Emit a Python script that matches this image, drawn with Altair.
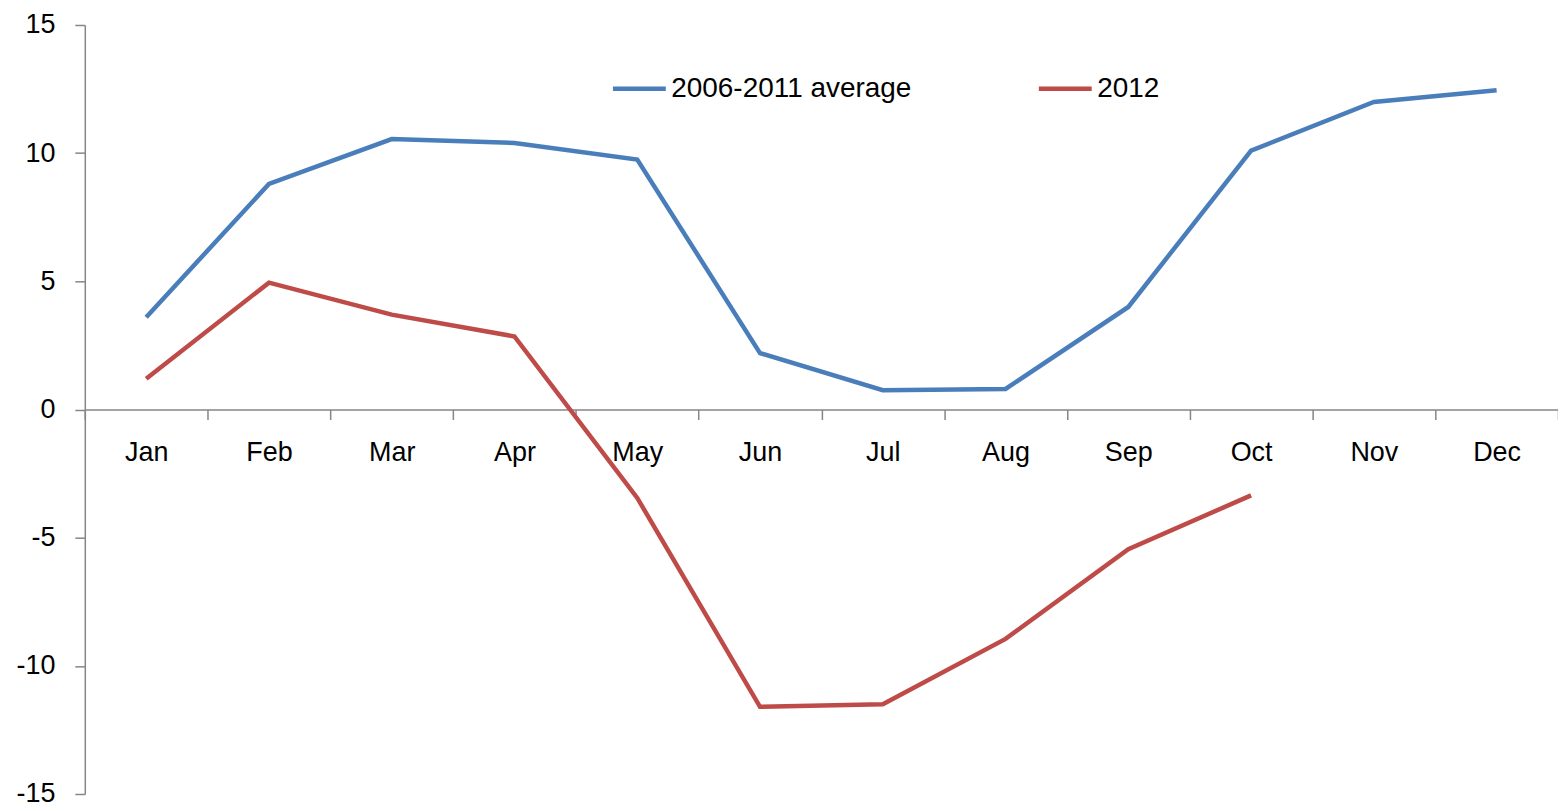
import altair as alt
import pandas as pd

months = ["Jan", "Feb", "Mar", "Apr", "May", "Jun", "Jul", "Aug", "Sep", "Oct", "Nov", "Dec"]
avg_2006_2011 = [3.6, 8.8, 10.55, 10.4, 9.75, 2.2, 0.75, 0.8, 4.0, 10.1, 12.0, 12.45]
y2012 = [1.2, 4.95, 3.7, 2.85, -3.45, -11.6, -11.5, -8.95, -5.45, -3.35]
series_names = ["2006-2011 average", "2012"]
colors = ["#4A7EBB", "#BE4B48"]
y_ticks = [-15, -10, -5, 0, 5, 10, 15]

rows = []
for m, v in zip(months, avg_2006_2011):
    rows.append({"month": m, "value": v, "series": series_names[0]})
for m, v in zip(months, y2012):
    rows.append({"month": m, "value": v, "series": series_names[1]})
df = pd.DataFrame(rows)

W, H = 1477, 771
FONT = "Liberation Sans"
AXIS_GRAY = "#868686"

chart = alt.Chart(df).mark_line(strokeWidth=4.5).encode(
    x=alt.X(
        "month:N",
        sort=months,
        bandPosition=0.5,
        scale=alt.Scale(type="band", domain=months, paddingInner=0, paddingOuter=0),
        axis=alt.Axis(
            title=None,
            orient="bottom",
            offset=-H / 2,
            tickBand="extent",
            tickSize=10,
            tickColor=AXIS_GRAY,
            tickWidth=1.5,
            domainColor=AXIS_GRAY,
            domainWidth=1.5,
            labelFont=FONT,
            labelFontSize=27,
            labelColor="black",
            labelPadding=20,
            labelAngle=0,
            grid=False,
        ),
    ),
    y=alt.Y(
        "value:Q",
        scale=alt.Scale(domain=[-15, 15], nice=False, zero=False),
        axis=alt.Axis(
            title=None,
            values=y_ticks,
            tickSize=10,
            tickColor=AXIS_GRAY,
            tickWidth=1.5,
            domainColor=AXIS_GRAY,
            domainWidth=1.5,
            labelFont=FONT,
            labelFontSize=27,
            labelColor="black",
            labelPadding=20,
            grid=False,
            labelExpr="datum.value < 0 ? '-' + abs(datum.value) : '' + datum.value",
        ),
    ),
    color=alt.Color(
        "series:N",
        scale=alt.Scale(domain=series_names, range=colors),
        legend=alt.Legend(
            title=None,
            orient="none",
            direction="horizontal",
            legendX=527,
            legendY=35,
            symbolType="stroke",
            symbolSize=2809,
            symbolStrokeWidth=4.5,
            labelFont=FONT,
            labelFontSize=28,
            labelColor="black",
            labelOffset=3,
            columnPadding=118,
            padding=0,
            labelLimit=400,
        ),
    ),
).properties(
    width=W,
    height=H,
    autosize=alt.AutoSizeParams(type="none"),
    padding={"left": 77, "top": 16, "right": 0, "bottom": 14},
).configure_view(stroke=None)

chart.save("out.html", embed_options={"renderer": "svg", "actions": False})
